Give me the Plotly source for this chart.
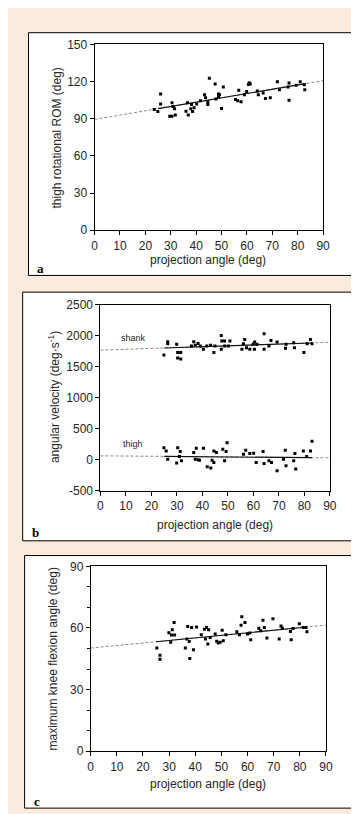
import plotly.graph_objects as go

W, H = 359, 814

# ---------------- data ----------------
a_x = [23.5, 24.9, 26.0, 26.0, 29.6, 30.5, 30.5, 30.9, 31.5, 31.8, 36.0, 36.6, 36.9, 37.9, 38.2,
       38.6, 39.2, 40.2, 41.7, 43.3, 43.7, 44.6, 44.6, 45.2, 47.5, 47.8, 48.8, 48.8, 49.2, 50.0,
       50.7, 55.5, 56.4, 56.8, 57.7, 59.0, 59.9, 60.6, 60.9, 61.3, 64.1, 64.5, 66.4, 67.3, 69.2,
       72.0, 72.8, 76.2, 76.6, 76.6, 79.4, 81.0, 82.8, 82.6]
a_y = [97.5, 95.8, 110, 102, 92, 92, 103, 100, 98, 93, 96, 103, 93, 98, 101.6,
       95.8, 99, 102, 104.5, 109.5, 107, 103.7, 101.6, 122.8, 118, 106, 110, 107.7, 109.5, 98.4,
       115.6, 105.5, 104.5, 113, 103.7, 109.5, 112, 117.7, 119, 118, 112.4, 109.5, 110.8, 106.3, 107,
       120, 113.5, 115.6, 118.8, 105, 117, 120, 113.5, 117.5]

shank_x = [24.9, 26.4, 26.4, 29.9, 30.3, 30.3, 31.5, 31.5, 35.7, 36.6, 37.2, 38.3, 39.2, 40.4,
           41.7, 43.2, 44.5, 44.9, 47.4, 47.6, 47.4, 48.7, 48.7, 50.2, 50.8, 55.5, 56.1, 56.6,
           57.3, 58.6, 59.9, 60.4, 60.5, 61.4, 64.2, 64.2, 66.1, 66.9, 69.3, 72.6, 72.8, 75.8,
           76.1, 79.8, 81.1, 82.4, 83.0]
shank_y = [1690, 1906, 1875, 1863, 1731, 1641, 1625, 1731, 1837, 1906, 1847, 1879, 1837, 1784,
           1837, 1847, 1731, 1837, 2007, 1916, 1784, 1916, 1837, 1837, 1916, 1784, 1875, 1943,
           1810, 1784, 1863, 1784, 1900, 1863, 2034, 1784, 1837, 1927, 1900, 1800, 1863, 1890,
           1810, 1731, 1875, 1943, 1875]

thigh_x = [24.9, 25.8, 26.4, 30.3, 29.9, 31.0, 31.3, 31.8, 36.6, 37.2, 37.6, 38.3, 38.9, 40.4,
           41.9, 43.3, 43.8, 44.5, 45.5, 44.5, 48.0, 48.7, 49.3, 49.7, 56.1, 57.0, 58.6, 60.1,
           61.1, 63.8, 64.2, 66.1, 67.1, 69.3, 71.8, 72.5, 72.8, 75.8, 76.3, 76.6, 79.6, 80.9,
           82.4, 83.0]
thigh_y = [195, 141, 9, 195, -54, 51, 131, -17, 115, 9, 184, 0, -7, 184,
           -113, -134, -7, 141, 115, -44, 168, -17, 131, 274, 88, 152, 99, 104,
           -44, 131, -60, -17, -44, -177, 9, 152, -97, -17, 99, -150, 141, 51,
           141, 300]

c_x = [25.3, 26.5, 26.5, 29.9, 30.6, 30.9, 31.2, 31.9, 32.1, 36.2, 36.8, 37.1, 37.7, 37.9, 38.6,
       39.3, 40.5, 42.3, 43.5, 43.9, 44.3, 44.8, 45.1, 45.7, 47.6, 48.2, 48.8, 49.5, 50.3, 50.7,
       51.7, 55.9, 56.9, 57.5, 57.8, 59.0, 60.0, 60.9, 61.2, 64.3, 65.0, 65.9, 66.4, 67.4, 69.7,
       72.1, 72.8, 73.3, 76.4, 76.7, 77.4, 79.8, 81.3, 82.3, 82.7]
c_y = [50.2, 46.7, 44.8, 57.7, 53.0, 56.5, 59.1, 62.6, 56.5, 50.2, 54.6, 60.7, 53.4, 45.1, 60.2,
       49.4, 60.5, 56.7, 59.4, 54.6, 60.2, 52.2, 59.1, 55.4, 57.0, 53.5, 52.7, 53.0, 58.9, 53.8,
       56.7, 58.1, 56.7, 61.3, 65.5, 62.6, 57.0, 57.5, 54.3, 59.9, 58.6, 63.7, 60.2, 55.1, 64.5,
       54.6, 61.0, 59.9, 58.3, 54.2, 59.7, 62.1, 60.2, 60.2, 58.1]

# regression lines: [intercept, slope], solid range [x_start, x_end]
fit_a = [89.5, 0.348]
fit_shank = [1770, 1.4]
fit_thigh = [63, -0.36]
fit_c = [50.2, 0.124]
fit_range = [25, 83]
full_range = [0, 90]

x_ticks = list(range(0, 91, 10))
a_yticks = list(range(0, 151, 30))
b_yticks = list(range(-500, 2501, 500))
b_yticktext = [str(v) for v in b_yticks]   # plain hyphen minus as in the reference
c_yticks = list(range(0, 91, 30))

# ---------------- layout helpers ----------------
def px_x(p):
    return p / W

def px_y(p):
    return 1 - p / H

FONT = "Liberation Sans, Arial, sans-serif"
TXT = "#262626"

fig = go.Figure()

def add_panel(xa, ya, xs, ys, fits):
    xref = "x" + ("" if xa == 1 else str(xa))
    yref = "y" + ("" if ya == 1 else str(ya))
    for (b0, b1) in fits:
        fx = full_range
        fig.add_trace(go.Scatter(x=fx, y=[b0 + b1 * v for v in fx], mode="lines",
                                 line=dict(color="#8a8a8a", width=1, dash="3px,2px"),
                                 xaxis=xref, yaxis=yref, hoverinfo="skip", showlegend=False))
        fx = fit_range
        fig.add_trace(go.Scatter(x=fx, y=[b0 + b1 * v for v in fx], mode="lines",
                                 line=dict(color="#111111", width=1.1),
                                 xaxis=xref, yaxis=yref, hoverinfo="skip", showlegend=False))
    for X, Y in zip(xs, ys):
        fig.add_trace(go.Scatter(x=X, y=Y, mode="markers",
                                 marker=dict(symbol="square", size=3, color="black"),
                                 xaxis=xref, yaxis=yref, showlegend=False))

add_panel(1, 1, [a_x], [a_y], [fit_a])
add_panel(2, 2, [shank_x, thigh_x], [shank_y, thigh_y], [fit_shank, fit_thigh])
add_panel(3, 3, [c_x], [c_y], [fit_c])

TICKFONT = dict(family=FONT, size=12, color=TXT)

def xaxis_cfg(x0, x1, anchor):
    return dict(domain=[px_x(x0), px_x(x1)], range=[0, 90], tickvals=x_ticks,
                showline=True, linecolor="black", linewidth=1, mirror=True,
                ticks="outside", ticklen=4, tickcolor="black", showgrid=False,
                zeroline=False, anchor=anchor, tickfont=TICKFONT)

def yaxis_cfg(y0, y1, rng, tv, anchor, minor=None, tt=None):
    d = dict(domain=[px_y(y1), px_y(y0)], range=rng, tickvals=tv,
             showline=True, linecolor="black", linewidth=1, mirror=True,
             ticks="outside", ticklen=4, tickcolor="black", showgrid=False,
             zeroline=False, anchor=anchor, tickfont=TICKFONT)
    if tt:
        d["ticktext"] = tt
    if minor:
        d["minor"] = minor
    return d

shapes = []
# outer white boxes
for (x0, y0, x1, y1) in [(18, 18, 354, 265), (12, 282, 354, 535), (14, 550, 352, 807)]:
    shapes.append(dict(type="rect", xref="paper", yref="paper",
                       x0=px_x(x0), x1=px_x(x1), y0=px_y(y1), y1=px_y(y0),
                       fillcolor="white", line=dict(color="black", width=1), layer="below"))

ann = []
def add_text(text, x, y, size=12, family=FONT, rot=0, bold=False, color=TXT):
    ann.append(dict(text=("<b>%s</b>" % text) if bold else text, x=px_x(x), y=px_y(y),
                    xref="paper", yref="paper", showarrow=False, textangle=rot,
                    font=dict(family=family, size=size, color=color),
                    xanchor="center", yanchor="middle"))

# axis titles
add_text("projection angle (deg)", 203, 249)
add_text("thigh rotational ROM (deg)", 47, 125, rot=-90)
add_text("projection angle (deg)", 210, 519)
add_text("angular velocity (deg·s<sup>-1</sup>)", 45, 389, rot=-90)
add_text("projection angle (deg)", 203, 782)
add_text("maximum knee flexion angle (deg)", 43, 655, rot=-90)
# series labels
add_text("shank", 126, 329, size=9)
add_text("thigh", 126, 436, size=9)
# panel letters
serif = "Liberation Serif, Times New Roman, serif"
add_text("a", 30, 258, size=13, family=serif, bold=True, color="black")
add_text("b", 25, 527, size=13, family=serif, bold=True, color="black")
add_text("c", 27, 800, size=13, family=serif, bold=True, color="black")

fig.update_layout(
    width=W, height=H, margin=dict(l=0, r=0, t=0, b=0),
    paper_bgcolor="#FCEBDD", plot_bgcolor="white",
    xaxis=xaxis_cfg(86, 321, "y"),
    yaxis=yaxis_cfg(30, 219, [0, 150], a_yticks, "x"),
    xaxis2=xaxis_cfg(92, 328, "y2"),
    yaxis2=yaxis_cfg(295, 484, [-500, 2500], b_yticks, "x2", tt=b_yticktext),
    xaxis3=xaxis_cfg(82, 324, "y3"),
    yaxis3=yaxis_cfg(561, 749, [0, 90], c_yticks, "x3",
                     minor=dict(tickvals=[v for v in range(0, 91, 10) if v % 30], ticks="outside",
                                ticklen=3, tickcolor="black")),
    shapes=shapes, annotations=ann, showlegend=False,
)

fig.write_html("out.html")
